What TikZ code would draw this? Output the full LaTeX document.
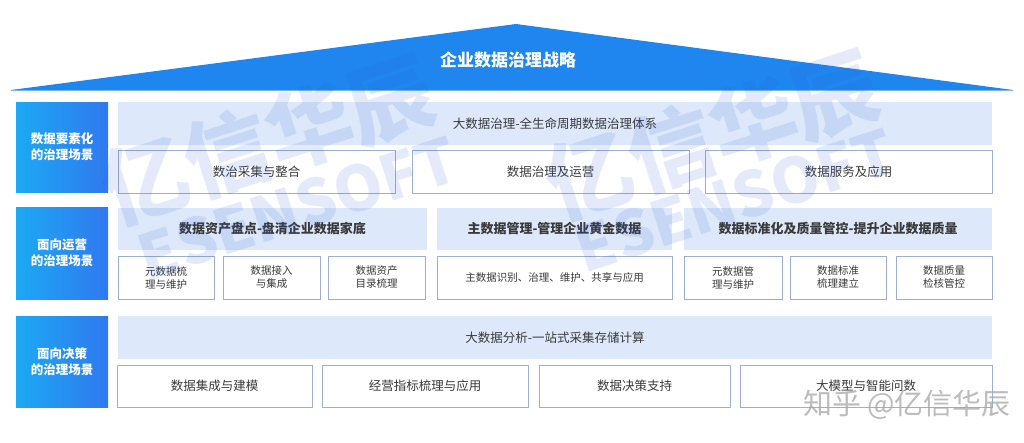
\documentclass[tikz,border=0pt]{standalone}
\usepackage{fontspec}
\setmainfont{Noto Sans CJK SC}
\usetikzlibrary{positioning}
\definecolor{roofc}{HTML}{1E86EE}
\definecolor{sideL}{HTML}{1CA9F4}
\definecolor{sideR}{HTML}{3079EE}
\definecolor{bandc}{HTML}{DDE9FA}
\definecolor{edgec}{HTML}{9CAED3}
\definecolor{txt}{HTML}{3A3A3A}
\definecolor{wmc}{HTML}{2F5FE0}
\tikzset{
  side/.style={rectangle, left color=sideL, right color=sideR, draw=none, text=white,
    font=\bfseries\fontsize{12.5}{16}\selectfont, align=center, inner sep=0pt,
    minimum width=92pt},
  band/.style={rectangle, fill=bandc, draw=none, text=txt, inner sep=0pt,
    font=\fontsize{12.5}{15}\selectfont},
  bandb/.style={band, font=\bfseries\fontsize{13}{15}\selectfont},
  sub/.style={rectangle, draw=edgec, fill=white, line width=0.9pt, text=txt, inner sep=0pt,
    align=center, font=\fontsize{12.5}{15}\selectfont},
  subs/.style={sub, font=\fontsize{10.5}{13}\selectfont},
  wm/.style={text=wmc, opacity=0.13, font=\bfseries\fontsize{86}{90}\selectfont, rotate=18},
  wme/.style={text=wmc, opacity=0.13, font=\bfseries\fontsize{62}{66}\selectfont, rotate=18},
}
\begin{document}
\begin{tikzpicture}[x=1pt,y=-1pt]
\useasboundingbox (0,0) rectangle (1024,442);
\fill[white] (0,0) rectangle (1024,442);

% roof
\coordinate (roofL) at (11,90);
\coordinate (roofR) at (1013,90);
\coordinate (roofT) at (516,24);
\fill[roofc] (roofL) -- (roofT) -- (roofR) -- cycle;
\draw[roofc!60!white, line width=1pt] (roofL) -- (roofR);
\node[text=white, font=\bfseries\fontsize{17}{20}\selectfont] (roof) at (508,60) {企业数据治理战略};

% row 1
\node[side, minimum height=90pt] (s1) at (62,147) {数据要素化\\的治理场景};
\node[band, minimum width=874pt, minimum height=43pt] (h1) at (555,123.5) {大数据治理-全生命周期数据治理体系};
\node[sub, minimum width=277pt, minimum height=43pt] (b11) at (256.5,171.5) {数治采集与整合};
\node[sub, minimum width=277pt, minimum height=43pt] (b12) at (550.5,171.5) {数据治理及运营};
\node[sub, minimum width=287pt, minimum height=43pt] (b13) at (848.5,171.5) {数据服务及应用};

% row 2
\node[side, minimum height=92pt] (s2) at (62,253) {面向运营\\的治理场景};
\node[bandb, minimum width=309pt, minimum height=42pt] (h21) at (272.5,229) {数据资产盘点-盘清企业数据家底};
\node[bandb, minimum width=235pt, minimum height=42pt] (h22) at (554.5,229) {主数据管理-管理企业黄金数据};
\node[bandb, minimum width=308pt, minimum height=42pt] (h23) at (838,229) {数据标准化及质量管控-提升企业数据质量};
\node[subs, minimum width=96pt, minimum height=43pt] (b21) at (166,277.5) {元数据梳\\理与维护};
\node[subs, minimum width=97pt, minimum height=43pt] (b22) at (271.5,277.5) {数据接入\\与集成};
\node[subs, minimum width=97pt, minimum height=43pt] (b23) at (376.5,277.5) {数据资产\\目录梳理};
\node[subs, minimum width=235pt, minimum height=43pt] (b24) at (554.5,277.5) {主数据识别、治理、维护、共享与应用};
\node[subs, minimum width=98pt, minimum height=43pt] (b25) at (733,277.5) {元数据管\\理与维护};
\node[subs, minimum width=96pt, minimum height=43pt] (b26) at (838,277.5) {数据标准\\梳理建立};
\node[subs, minimum width=96pt, minimum height=43pt] (b27) at (944,277.5) {数据质量\\检核管控};

% row 3
\node[side, minimum height=91pt] (s3) at (62,361.5) {面向决策\\的治理场景};
\node[band, minimum width=874pt, minimum height=43pt] (h3) at (555,337.5) {大数据分析-一站式采集存储计算};
\node[sub, minimum width=195pt, minimum height=42pt] (b31) at (214.5,386) {数据集成与建模};
\node[sub, minimum width=206pt, minimum height=42pt] (b32) at (425,386) {经营指标梳理与应用};
\node[sub, minimum width=191pt, minimum height=42pt] (b33) at (634.5,386) {数据决策支持};
\node[sub, minimum width=252pt, minimum height=42pt] (b34) at (866,386) {大模型与智能问数};

% watermarks
\node[wm] (wm1) at (268,140) {亿信华辰};
\node[wme] (wm2) at (298,208) {ESENSOFT};
\node[wm] (wm3) at (712,135) {亿信华辰};
\node[wme] (wm4) at (735,200) {ESENSOFT};
\node[text=gray!70, opacity=0.75, font=\fontsize{29}{32}\selectfont] (zh) at (907,405) {知乎 @亿信华辰};
\end{tikzpicture}
\end{document}
